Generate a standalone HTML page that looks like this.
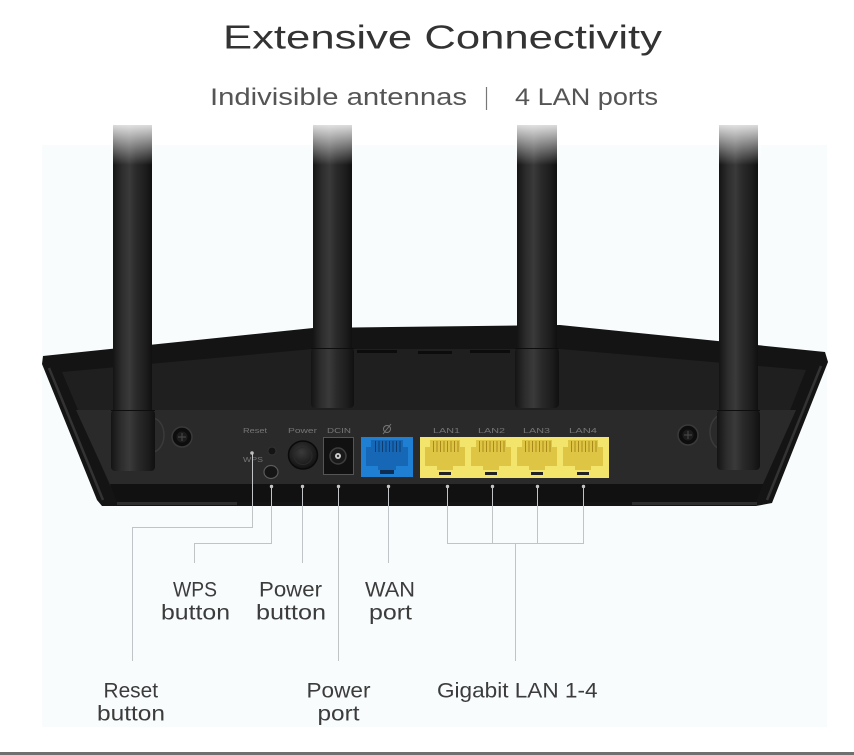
<!DOCTYPE html>
<html><head><meta charset="utf-8"><style>
html,body{margin:0;padding:0;background:#fff;}
svg{display:block;}
text{font-family:"Liberation Sans",sans-serif;}
</style></head><body>
<svg width="854" height="755" viewBox="0 0 854 755" xmlns="http://www.w3.org/2000/svg">
<defs>
 <linearGradient id="ant" x1="0" x2="1" y1="0" y2="0">
  <stop offset="0" stop-color="#141414"/>
  <stop offset="0.22" stop-color="#2c2c2c"/>
  <stop offset="0.42" stop-color="#3a3a3a"/>
  <stop offset="0.6" stop-color="#2a2a2a"/>
  <stop offset="0.85" stop-color="#1c1c1c"/>
  <stop offset="1" stop-color="#101010"/>
 </linearGradient>
 <linearGradient id="fade" x1="0" y1="0" x2="0" y2="1">
  <stop offset="0" stop-color="#ffffff" stop-opacity="0.85"/>
  <stop offset="1" stop-color="#ffffff" stop-opacity="0"/>
 </linearGradient>
 <radialGradient id="pbg" cx="0.45" cy="0.4" r="0.6">
  <stop offset="0" stop-color="#3a3a3a"/>
  <stop offset="1" stop-color="#121212"/>
 </radialGradient>
</defs>

<!-- background panel -->
<rect x="0" y="0" width="854" height="755" fill="#ffffff"/>
<rect x="42" y="145" width="785" height="582" fill="#f8fcfd"/>
<rect x="0" y="752" width="854" height="3" fill="#6f6f6f"/>

<!-- title -->
<text x="223" y="48.5" font-size="33" textLength="439" lengthAdjust="spacingAndGlyphs" fill="#333">Extensive Connectivity</text>
<text x="210" y="105" font-size="24" textLength="257" lengthAdjust="spacingAndGlyphs" fill="#555">Indivisible antennas</text>
<line x1="486.5" y1="87" x2="486.5" y2="110" stroke="#777" stroke-width="1.2"/>
<text x="515" y="105" font-size="24" textLength="143" lengthAdjust="spacingAndGlyphs" fill="#555">4 LAN ports</text>

<!-- router body -->
<path d="M43 356 L313 328 L560 325 L825 352 L828 362 L772 503 L756 506 L102 506 L97 500 L42 364 Z" fill="#141414"/>
<!-- inner face -->
<path d="M62 372 L313 349 L560 349 L806 370 L760 486 L110 486 Z" fill="#1f1f1f"/>
<!-- port panel -->
<path d="M76 410 L796 410 L763 484 L110 484 Z" fill="#2a2a2a"/>
<!-- bottom band -->
<path d="M110 484 L763 484 L756 502 L117 502 Z" fill="#111"/>
<rect x="117" y="502" width="120" height="3" fill="#2e2e2e"/>
<rect x="632" y="502" width="125" height="3" fill="#2e2e2e"/>
<!-- side rims highlight -->
<line x1="49" y1="368" x2="103" y2="500" stroke="#333" stroke-width="2.5"/>
<line x1="821" y1="366" x2="767" y2="500" stroke="#333" stroke-width="2.5"/>
<!-- top slot marks -->
<rect x="357" y="350" width="40" height="3" fill="#0c0c0c"/>
<rect x="418" y="351" width="34" height="3" fill="#0c0c0c"/>
<rect x="470" y="350" width="40" height="3" fill="#0c0c0c"/>

<!-- antenna mounts -->
<ellipse cx="152" cy="435" rx="12" ry="17" fill="none" stroke="#3a3a3a" stroke-width="1.5"/>
<ellipse cx="722" cy="432" rx="12" ry="17" fill="none" stroke="#3a3a3a" stroke-width="1.5"/>

<!-- screws -->
<circle cx="182" cy="437" r="10" fill="#0d0d0d" stroke="#3a3a3a" stroke-width="1.5"/>
<circle cx="182" cy="437" r="5.5" fill="#1c1c1c"/>
<path d="M178 437 H186 M182 433 V441" stroke="#444" stroke-width="1.2"/>
<circle cx="688" cy="435" r="10" fill="#0d0d0d" stroke="#3a3a3a" stroke-width="1.5"/>
<circle cx="688" cy="435" r="5.5" fill="#1c1c1c"/>
<path d="M684 435 H692 M688 431 V439" stroke="#444" stroke-width="1.2"/>

<!-- antennas -->
<g>
 <rect x="113" y="125" width="39" height="285" fill="url(#ant)"/>
 <rect x="111" y="410" width="44" height="61" rx="4" fill="url(#ant)"/>
 <line x1="111" y1="410.5" x2="155" y2="410.5" stroke="#0e0e0e" stroke-width="1"/>
 <rect x="111" y="125" width="44" height="40" fill="url(#fade)"/>
</g>
<g>
 <rect x="313" y="125" width="39" height="223" fill="url(#ant)"/>
 <rect x="311" y="348" width="43" height="60" rx="4" fill="url(#ant)"/>
 <line x1="311" y1="348.5" x2="354" y2="348.5" stroke="#0e0e0e" stroke-width="1"/>
 <rect x="311" y="125" width="44" height="40" fill="url(#fade)"/>
</g>
<g>
 <rect x="517" y="125" width="40" height="223" fill="url(#ant)"/>
 <rect x="515" y="348" width="44" height="60" rx="4" fill="url(#ant)"/>
 <line x1="515" y1="348.5" x2="559" y2="348.5" stroke="#0e0e0e" stroke-width="1"/>
 <rect x="515" y="125" width="44" height="40" fill="url(#fade)"/>
</g>
<g>
 <rect x="719" y="125" width="39" height="285" fill="url(#ant)"/>
 <rect x="717" y="410" width="43" height="60" rx="4" fill="url(#ant)"/>
 <line x1="717" y1="410.5" x2="760" y2="410.5" stroke="#0e0e0e" stroke-width="1"/>
 <rect x="717" y="125" width="44" height="40" fill="url(#fade)"/>
</g>

<!-- small router labels -->
<g font-size="7.5" fill="#767676">
 <text x="243" y="433" textLength="24" lengthAdjust="spacingAndGlyphs">Reset</text>
 <text x="288" y="433" textLength="29" lengthAdjust="spacingAndGlyphs">Power</text>
 <text x="327" y="433" textLength="24" lengthAdjust="spacingAndGlyphs">DCIN</text>
 <text x="243" y="462" textLength="20" lengthAdjust="spacingAndGlyphs">WPS</text>
 <text x="433" y="433" textLength="27" lengthAdjust="spacingAndGlyphs">LAN1</text>
 <text x="478" y="433" textLength="27" lengthAdjust="spacingAndGlyphs">LAN2</text>
 <text x="523" y="433" textLength="27" lengthAdjust="spacingAndGlyphs">LAN3</text>
 <text x="569" y="433" textLength="28" lengthAdjust="spacingAndGlyphs">LAN4</text>
</g>
<!-- globe icon -->
<circle cx="387" cy="429" r="3.5" fill="none" stroke="#777" stroke-width="1"/>
<line x1="383" y1="434" x2="391" y2="424" stroke="#777" stroke-width="1"/>

<!-- reset hole, LED, WPS button -->
<circle cx="252" cy="453" r="1.8" fill="#bbb"/>
<circle cx="272" cy="451" r="4" fill="#141414" stroke="#333" stroke-width="1"/>
<ellipse cx="271" cy="472" rx="7" ry="6.5" fill="#151515" stroke="#5a5a5a" stroke-width="1.2"/>

<!-- power button -->
<ellipse cx="303" cy="455" rx="14.5" ry="14" fill="url(#pbg)" stroke="#0a0a0a" stroke-width="1.5"/>
<ellipse cx="303" cy="456" rx="9" ry="8.5" fill="none" stroke="#2a2a2a" stroke-width="1"/>

<!-- DCIN -->
<rect x="323.5" y="437.5" width="30" height="37" fill="#111" stroke="#555" stroke-width="1"/>
<circle cx="338" cy="456" r="8" fill="#1a1a1a" stroke="#3e3e3e" stroke-width="1.5"/>
<circle cx="338" cy="456" r="3" fill="#cfcfcf"/>
<circle cx="338" cy="456" r="1.2" fill="#333"/>

<!-- WAN -->
<rect x="361" y="437" width="52" height="40" fill="#1f7fd2"/>
<path d="M371 440 L403 440 L403 447 L408 447 L408 466 L396 466 L396 470 L378 470 L378 466 L366 466 L366 447 L371 447 Z" fill="#1667b5"/>
<g stroke="#0c3c70" stroke-width="1">
 <line x1="375.5" y1="441" x2="375.5" y2="452"/><line x1="379" y1="441" x2="379" y2="452"/>
 <line x1="382.5" y1="441" x2="382.5" y2="452"/><line x1="386" y1="441" x2="386" y2="452"/>
 <line x1="389.5" y1="441" x2="389.5" y2="452"/><line x1="393" y1="441" x2="393" y2="452"/>
 <line x1="396.5" y1="441" x2="396.5" y2="452"/><line x1="400" y1="441" x2="400" y2="452"/>
</g>
<rect x="380" y="470" width="14" height="4" fill="#0d2d55"/>

<!-- LAN block -->
<rect x="420" y="437" width="189" height="41" fill="#f3e46c"/>
<g id="jacks">
 <path d="M430 440 L460 440 L460 447 L465 447 L465 466 L453 466 L453 470 L437 470 L437 466 L425 466 L425 447 L430 447 Z" fill="#dec644"/>
 <path d="M476 440 L506 440 L506 447 L511 447 L511 466 L499 466 L499 470 L483 470 L483 466 L471 466 L471 447 L476 447 Z" fill="#dec644"/>
 <path d="M522 440 L552 440 L552 447 L557 447 L557 466 L545 466 L545 470 L529 470 L529 466 L517 466 L517 447 L522 447 Z" fill="#dec644"/>
 <path d="M568 440 L598 440 L598 447 L603 447 L603 466 L591 466 L591 470 L575 470 L575 466 L563 466 L563 447 L568 447 Z" fill="#dec644"/>
</g>
<g stroke="#a9891a" stroke-width="1">
 <path d="M433.5 441V452M437 441V452M440.5 441V452M444 441V452M447.5 441V452M451 441V452M454.5 441V452M458 441V452"/>
 <path d="M479.5 441V452M483 441V452M486.5 441V452M490 441V452M493.5 441V452M497 441V452M500.5 441V452M504 441V452"/>
 <path d="M525.5 441V452M529 441V452M532.5 441V452M536 441V452M539.5 441V452M543 441V452M546.5 441V452M550 441V452"/>
 <path d="M571.5 441V452M575 441V452M578.5 441V452M582 441V452M585.5 441V452M589 441V452M592.5 441V452M596 441V452"/>
</g>
<g fill="#222">
 <rect x="439" y="472" width="12" height="3"/>
 <rect x="485" y="472" width="12" height="3"/>
 <rect x="531" y="472" width="12" height="3"/>
 <rect x="577" y="472" width="12" height="3"/>
</g>

<!-- connector lines -->
<g stroke="#c0c4c6" stroke-width="1" fill="none">
 <path d="M252.5 453 V527.5 H132.5 V661"/>
 <path d="M271.5 486 V543.5 H194.5 V563"/>
 <path d="M302.5 486 V563"/>
 <path d="M338.5 486 V661"/>
 <path d="M388.5 486 V563"/>
 <path d="M447.5 486 V543.5 H583.5 V486"/>
 <path d="M492.5 486 V543.5"/>
 <path d="M537.5 486 V543.5"/>
 <path d="M515.5 543.5 V661"/>
</g>
<g fill="#c4c4c4">
 <circle cx="271.5" cy="486.5" r="1.7"/>
 <circle cx="302.5" cy="486.5" r="1.7"/>
 <circle cx="338.5" cy="486.5" r="1.7"/>
 <circle cx="388.5" cy="486.5" r="1.7"/>
 <circle cx="447.5" cy="486.5" r="1.7"/>
 <circle cx="492.5" cy="486.5" r="1.7"/>
 <circle cx="537.5" cy="486.5" r="1.7"/>
 <circle cx="583.5" cy="486.5" r="1.7"/>
</g>

<!-- labels -->
<g font-size="21.5" fill="#3c3c3c">
 <text x="173" y="596.5" textLength="44" lengthAdjust="spacingAndGlyphs">WPS</text>
 <text x="161" y="619.5" textLength="69" lengthAdjust="spacingAndGlyphs">button</text>
 <text x="259" y="596.5" textLength="63" lengthAdjust="spacingAndGlyphs">Power</text>
 <text x="256" y="619.5" textLength="70" lengthAdjust="spacingAndGlyphs">button</text>
 <text x="365" y="596.5" textLength="50" lengthAdjust="spacingAndGlyphs">WAN</text>
 <text x="369" y="619.5" textLength="43" lengthAdjust="spacingAndGlyphs">port</text>
 <text x="103.5" y="697.3" textLength="54.5" lengthAdjust="spacingAndGlyphs">Reset</text>
 <text x="97" y="720.3" textLength="68" lengthAdjust="spacingAndGlyphs">button</text>
 <text x="306.5" y="697.3" textLength="64" lengthAdjust="spacingAndGlyphs">Power</text>
 <text x="317.5" y="720.3" textLength="42" lengthAdjust="spacingAndGlyphs">port</text>
 <text x="437" y="697.3" textLength="160.5" lengthAdjust="spacingAndGlyphs">Gigabit LAN 1-4</text>
</g>
</svg>
</body></html>
